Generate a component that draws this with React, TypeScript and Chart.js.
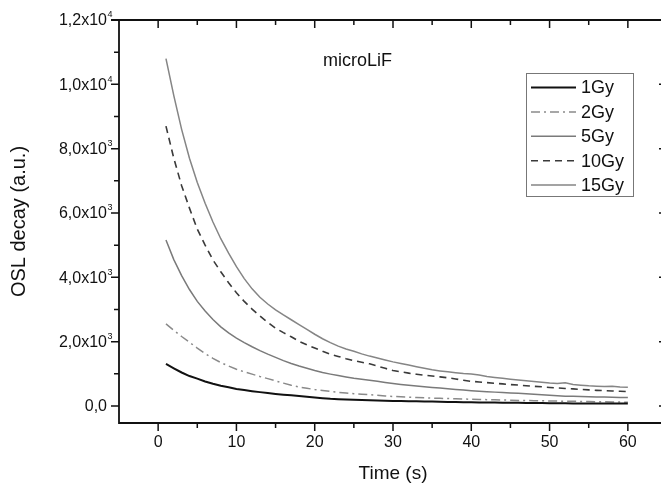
import { useEffect, useRef } from "react";
import { Chart, registerables } from "chart.js";

Chart.register(...registerables);

// ---- data ----
const TIME = [
  1, 2, 3, 4, 5, 6, 7, 8, 9, 10, 11, 12, 13, 14, 15, 16, 17, 18, 19, 20,
  21, 22, 23, 24, 25, 26, 27, 28, 29, 30, 31, 32, 33, 34, 35, 36, 37, 38, 39, 40,
  41, 42, 43, 44, 45, 46, 47, 48, 49, 50, 51, 52, 53, 54, 55, 56, 57, 58, 59, 60,
];

const DOSE_LABELS = ["1Gy", "2Gy", "5Gy", "10Gy", "15Gy"];

const OSL_1GY = [
  1305, 1170, 1040, 930, 850, 760, 690, 630, 580, 530, 495, 460, 430, 400, 375, 350, 330, 310, 285, 260,
  240, 222, 210, 200, 192, 184, 176, 170, 163, 157, 152, 148, 143, 139, 135, 130, 126, 122, 118, 114,
  111, 108, 105, 102, 99, 96, 94, 91, 88, 85, 83, 82, 80, 79, 78, 77, 76, 75, 74, 73,
];
const OSL_2GY = [
  2550, 2350, 2160, 1980, 1800, 1630, 1480, 1350, 1240, 1140, 1060, 990, 915, 850, 780, 710, 645, 590, 550, 510,
  480, 450, 425, 400, 380, 365, 350, 330, 310, 295, 285, 275, 265, 255, 245, 238, 230, 222, 215, 208,
  202, 196, 190, 184, 178, 173, 168, 164, 160, 156, 152, 148, 144, 140, 136, 132, 128, 124, 120, 115,
];
const OSL_5GY = [
  5160, 4550, 4050, 3620, 3250, 2950, 2690, 2460, 2270, 2110, 1970, 1840, 1720, 1610, 1510, 1410, 1320, 1240, 1170, 1100,
  1040, 990, 945, 900, 860, 830, 800, 765, 730, 700, 670, 645, 620, 600, 575, 555, 535, 515, 495, 475,
  460, 445, 430, 415, 405, 395, 380, 365, 350, 330, 315, 305, 300, 295, 285, 280, 275, 270, 265, 260,
];
const OSL_10GY = [
  8700, 7700, 6850, 6150, 5500, 5000, 4540, 4170, 3830, 3520, 3250, 3010, 2800, 2600, 2420, 2280, 2150, 2010, 1900, 1800,
  1700, 1610, 1540, 1470, 1410, 1360, 1310, 1240, 1170, 1100, 1060, 1020, 985, 955, 930, 905, 875, 840, 800, 765,
  745, 725, 705, 685, 665, 650, 630, 610, 595, 575, 560, 545, 530, 515, 500, 485, 475, 465, 455, 445,
];
const OSL_15GY = [
  10800, 9650, 8600, 7700, 6950, 6300, 5720, 5200, 4750, 4330, 3960, 3640, 3380, 3170, 2990, 2830, 2680, 2530, 2380, 2230,
  2090, 1970, 1860, 1770, 1700, 1620, 1550, 1490, 1430, 1370, 1320, 1270, 1220, 1170, 1125, 1090, 1060, 1035, 1010, 995,
  960, 915, 885, 860, 830, 805, 785, 760, 735, 710, 695, 720, 670, 645, 625, 615, 605, 610, 590, 580,
];

const X_MAJOR_TICKS = [0, 10, 20, 30, 40, 50, 60];
const X_MINOR_TICKS = [5, 15, 25, 35, 45, 55];
const Y_MAJOR_TICKS = [0, 2000, 4000, 6000, 8000, 10000, 12000];
const Y_TICK_LABELS = ["0,0", "2,0x10^3", "4,0x10^3", "6,0x10^3", "8,0x10^3", "1,0x10^4", "1,2x10^4"];
const Y_MINOR_TICKS = [1000, 3000, 5000, 7000, 9000, 11000];

const X_TITLE = "Time (s)";
const Y_TITLE = "OSL decay (a.u.)";
const PLOT_LABEL = "microLiF";

const FONT = "'Liberation Sans', Arial, sans-serif";

const axesPlugin = {
  id: "originAxes",
  afterDraw(chart: any) {
    const { ctx, chartArea: ca, scales } = chart;
    const xs = scales.x;
    const ys = scales.y;
    ctx.save();
    ctx.strokeStyle = "#111";
    ctx.fillStyle = "#111";
    // frame lines
    ctx.lineWidth = 1.8;
    ctx.beginPath();
    ctx.moveTo(ca.left, ca.top - 0.5);
    ctx.lineTo(ca.left, ca.bottom);
    ctx.lineTo(ca.right, ca.bottom);
    ctx.lineTo(ca.right, ca.top);
    ctx.lineTo(ca.left - 8, ca.top);
    ctx.stroke();

    ctx.lineWidth = 1.5;
    ctx.beginPath();
    // left ticks (outward), right ticks (inward)
    Y_MAJOR_TICKS.forEach((v) => {
      const py = ys.getPixelForValue(v);
      ctx.moveTo(ca.left - 8, py);
      ctx.lineTo(ca.left, py);
      ctx.moveTo(ca.right - 8, py);
      ctx.lineTo(ca.right, py);
    });
    Y_MINOR_TICKS.forEach((v) => {
      const py = ys.getPixelForValue(v);
      ctx.moveTo(ca.left - 5, py);
      ctx.lineTo(ca.left, py);
      ctx.moveTo(ca.right - 5, py);
      ctx.lineTo(ca.right, py);
    });
    // bottom (outward) and top (inward)
    X_MAJOR_TICKS.forEach((v) => {
      const px = xs.getPixelForValue(v);
      ctx.moveTo(px, ca.bottom);
      ctx.lineTo(px, ca.bottom + 8);
      ctx.moveTo(px, ca.top);
      ctx.lineTo(px, ca.top + 8);
    });
    X_MINOR_TICKS.forEach((v) => {
      const px = xs.getPixelForValue(v);
      ctx.moveTo(px, ca.bottom);
      ctx.lineTo(px, ca.bottom + 5);
      ctx.moveTo(px, ca.top);
      ctx.lineTo(px, ca.top + 5);
    });
    ctx.stroke();

    // y tick labels
    ctx.textBaseline = "middle";
    Y_MAJOR_TICKS.forEach((v, i) => {
      const py = ys.getPixelForValue(v);
      const [base, exp] = Y_TICK_LABELS[i].split("^");
      ctx.font = `16px ${FONT}`;
      ctx.textAlign = "right";
      ctx.fillText(base, ca.left - 12, py + 1);
      if (exp) {
        ctx.font = `9px ${FONT}`;
        ctx.textAlign = "left";
        ctx.fillText(exp, ca.left - 11.5, py - 5);
      }
    });

    // x tick labels
    ctx.font = `16px ${FONT}`;
    ctx.textAlign = "center";
    X_MAJOR_TICKS.forEach((v) => {
      const px = xs.getPixelForValue(v);
      ctx.fillText(String(v), px, ca.bottom + 20);
    });

    // axis titles
    ctx.font = `19px ${FONT}`;
    ctx.fillText(X_TITLE, (xs.getPixelForValue(0) + xs.getPixelForValue(60)) / 2, ca.bottom + 51);
    ctx.save();
    ctx.font = `20px ${FONT}`;
    ctx.translate(19, (ca.top + ca.bottom) / 2);
    ctx.rotate(-Math.PI / 2);
    ctx.fillText(Y_TITLE, 0, 0);
    ctx.restore();

    // plot label
    ctx.font = `18px ${FONT}`;
    ctx.textAlign = "left";
    ctx.fillText(PLOT_LABEL, 323, 61);

    // legend
    const lx = 526, ly = 73, lw = 107, lh = 123;
    ctx.lineWidth = 1;
    ctx.strokeStyle = "#777";
    ctx.strokeRect(lx + 0.5, ly + 0.5, lw, lh);
    chart.data.datasets.forEach((ds: any, i: number) => {
      const ry = 87.5 + i * 24.4;
      ctx.save();
      ctx.strokeStyle = ds.borderColor;
      ctx.lineWidth = ds.borderWidth;
      ctx.setLineDash(ds.borderDash || []);
      ctx.beginPath();
      ctx.moveTo(531, ry);
      ctx.lineTo(576, ry);
      ctx.stroke();
      ctx.restore();
      ctx.fillStyle = "#111";
      ctx.font = `18px ${FONT}`;
      ctx.textAlign = "left";
      ctx.fillText(ds.label, 581, ry + 1);
    });
    ctx.restore();
  },
};

function series(values: number[]) {
  return TIME.map((t, i) => ({ x: t, y: values[i] }));
}

export default function App() {
  const ref = useRef<HTMLCanvasElement>(null);
  useEffect(() => {
    if (!ref.current) return;
    const styles = [
      { color: "#111111", width: 2, dash: [] as number[] },
      { color: "#8a8a8a", width: 1.5, dash: [9, 4, 2, 4] },
      { color: "#7a7a7a", width: 1.5, dash: [] as number[] },
      { color: "#3a3a3a", width: 1.6, dash: [7, 5] },
      { color: "#858585", width: 1.5, dash: [] as number[] },
    ];
    const values = [OSL_1GY, OSL_2GY, OSL_5GY, OSL_10GY, OSL_15GY];
    const chart = new Chart(ref.current, {
      type: "line",
      data: {
        datasets: values.map((v, i) => ({
          label: DOSE_LABELS[i],
          data: series(v),
          borderColor: styles[i].color,
          borderWidth: styles[i].width,
          borderDash: styles[i].dash,
          pointRadius: 0,
          fill: false,
          tension: 0,
        })),
      },
      options: {
        responsive: false,
        maintainAspectRatio: false,
        animation: false,
        layout: { padding: { left: 119, top: 20, right: 1, bottom: 61 } },
        scales: {
          x: { type: "linear", min: -5, max: 65, display: false },
          y: { type: "linear", min: -530, max: 12000, display: false },
        },
        plugins: { legend: { display: false }, tooltip: { enabled: false } },
      },
      plugins: [axesPlugin],
    });
    return () => chart.destroy();
  }, []);
  return (
    <div
      style={{
        position: "fixed",
        left: 0,
        top: 0,
        width: 661,
        height: 484,
        overflow: "hidden",
        background: "#fff",
      }}
    >
      <canvas ref={ref} width={668} height={484} style={{ display: "block" }} />
    </div>
  );
}
